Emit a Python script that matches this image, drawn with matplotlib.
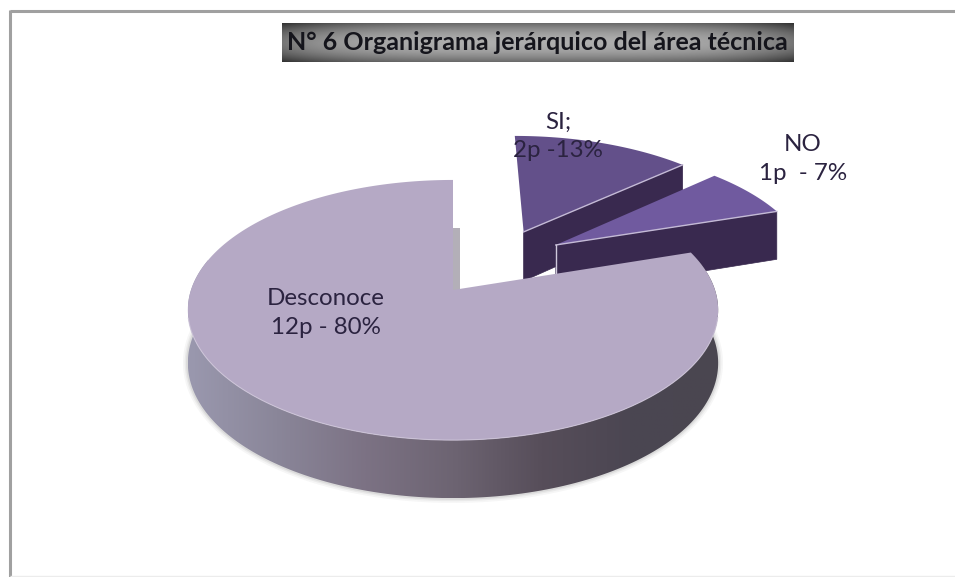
import numpy as np
import matplotlib
matplotlib.use("Agg")
import matplotlib.pyplot as plt
from matplotlib.colors import LinearSegmentedColormap
from matplotlib.patches import Polygon, Rectangle

# Chart data
categories = ["SI", "NO", "Desconoce"]
persons = [2, 1, 12]
labels = ["SI;\n2p -13%", "NO\n1p  - 7%", "Desconoce\n12p - 80%"]
title = "N° 6 Organigrama jerárquico del área técnica"

# Projection of the pie disc onto the canvas
TIP_X, TIP_Y = 453.0, 290.0
SCALE_X, SCALE_Y = 262.0, 127.0
PERSPECTIVE = 0.154
explode = {"SI": (0.29, 0.492), "NO": (0.415, 0.375), "Desconoce": (0.0, 0.0)}

TOP_COLORS = {"SI": "#63508a", "NO": "#705a9f", "Desconoce": "#b5a9c5"}
WALL_COLOR = "#39294f"
TEXT_COLOR = "#2b2340"


def project(u, v, drop=False):
    s = 1.0 / (1.0 + PERSPECTIVE * v)
    x = TIP_X + SCALE_X * u * s
    y = TIP_Y - SCALE_Y * v * s
    if drop:
        y = y + 52.0 - 6.0 * v
    return np.column_stack([x, y])


def disc_edge(theta0, theta1, offset, n=240):
    th = np.linspace(theta0, theta1, n)
    return offset[0] + np.sin(th), offset[1] + np.cos(th)


fig = plt.figure(figsize=(9.55, 5.77), dpi=100)
ax = fig.add_axes([0, 0, 1, 1])
ax.axis("off")

# Chart area border: soft grey along the top and left sides, faint at the bottom
ax.plot([10, 955], [11, 11], color="#a0a0a0", lw=2.2, solid_capstyle="butt")
ax.plot([10, 10], [10, 577], color="#a0a0a0", lw=2.2, solid_capstyle="butt")
ax.plot([10, 955], [575.5, 575.5], color="#ececec", lw=1.0, solid_capstyle="butt")

# Title plate with a metallic gradient
yy = np.abs(np.linspace(-1, 1, 40))[:, None]
xx = np.abs(np.linspace(-1, 1, 512))[None, :]
plate = 0.68 - 0.26 * yy ** 2 - 0.22 * xx ** 4
ax.imshow(plate, extent=(282, 793, 62, 23), cmap="gray", vmin=0, vmax=1,
          aspect="auto", zorder=2, interpolation="bilinear")
ax.text(537, 43, title, ha="center", va="center", fontsize=18,
        family="Lato", weight="bold", color="#15151c", zorder=3)

# Slice angles, clockwise from twelve o'clock
fractions = np.array(persons, dtype=float) / sum(persons)
stops = np.concatenate([[0.0], np.cumsum(fractions)]) * 2 * np.pi
spans = {c: (stops[i], stops[i + 1]) for i, c in enumerate(categories)}

wall_cmap = LinearSegmentedColormap.from_list(
    "wall", ["#9a98ae", "#8a8699", "#7c7284", "#6d6472", "#574e5a", "#4b4652", "#4a4650"])


def draw_slice(name, z):
    t0, t1 = spans[name]
    off = explode[name]
    u, v = disc_edge(t0, t1, off)
    ou = np.concatenate([[off[0]], u])
    ov = np.concatenate([[off[1]], v])
    top = project(ou, ov)

    if name == "Desconoce":
        front = v < 0.25
        a, b = project(u[front], v[front]), project(u[front], v[front], drop=True)
        # Soft shadow under the rim
        for width, alpha in ((7, 0.05), (4.5, 0.07), (2.5, 0.10)):
            ax.plot(*b.T, color="#555555", lw=width, alpha=alpha, zorder=z - 1,
                    solid_capstyle="round")
        # Rim shaded from left to right
        outline = Polygon(np.vstack([a, b[::-1]]), fc="none", ec="none",
                          transform=ax.transData)
        ax.add_patch(outline)
        shade = ax.imshow(np.linspace(0, 1, 600)[None, :], cmap=wall_cmap, aspect="auto",
                          extent=(a[:, 0].min(), a[:, 0].max(), b[:, 1].max(), a[:, 1].min()),
                          zorder=z, interpolation="bilinear")
        shade.set_clip_path(outline)
    else:
        # Radial cut of the slice in one dark tone
        rad_u = np.array([off[0], off[0] + np.sin(t1)])
        rad_v = np.array([off[1], off[1] + np.cos(t1)])
        edge_t = project(rad_u, rad_v)
        edge_b = project(rad_u, rad_v, drop=True)
        ax.add_patch(Polygon(np.vstack([edge_t, edge_b[::-1]]), fc=WALL_COLOR,
                             ec=WALL_COLOR, lw=0.5, zorder=z))
        ax.plot(*edge_t.T, color="#c4bad6", lw=1.0, zorder=z + 0.3)
        if name == "NO":
            ax.plot(*np.vstack([edge_t[0], edge_b[0]]).T, color="#cfc8dc", lw=1.0,
                    zorder=z + 0.3)
    ax.add_patch(Polygon(top, fc=TOP_COLORS[name], ec="none", zorder=z + 0.2))

    # Pale highlight along the front edge of the large slice
    if name == "Desconoce":
        lower = v < -0.2
        ax.plot(*project(u[lower], v[lower]).T, color="#cfc6da", lw=0.8, alpha=0.8,
                zorder=z + 0.3)


draw_slice("SI", 4)
draw_slice("NO", 5)
# Narrow glimpse of the cut face of the large slice
ax.add_patch(Rectangle((452, 228), 8, 62, fc="#b3afb8", ec="none", zorder=3))
draw_slice("Desconoce", 7)

# Data labels
font = dict(family="Lato", fontsize=17.4, color=TEXT_COLOR, ha="center",
            va="center", linespacing=1.43, zorder=9)
ax.text(558, 136, labels[0], **font)
ax.text(803, 159, labels[1], **font)
ax.text(326, 313, labels[2], **font)

ax.set_xlim(0, 955)
ax.set_ylim(577, 0)
fig.savefig("out.png", dpi=100, facecolor="white")
